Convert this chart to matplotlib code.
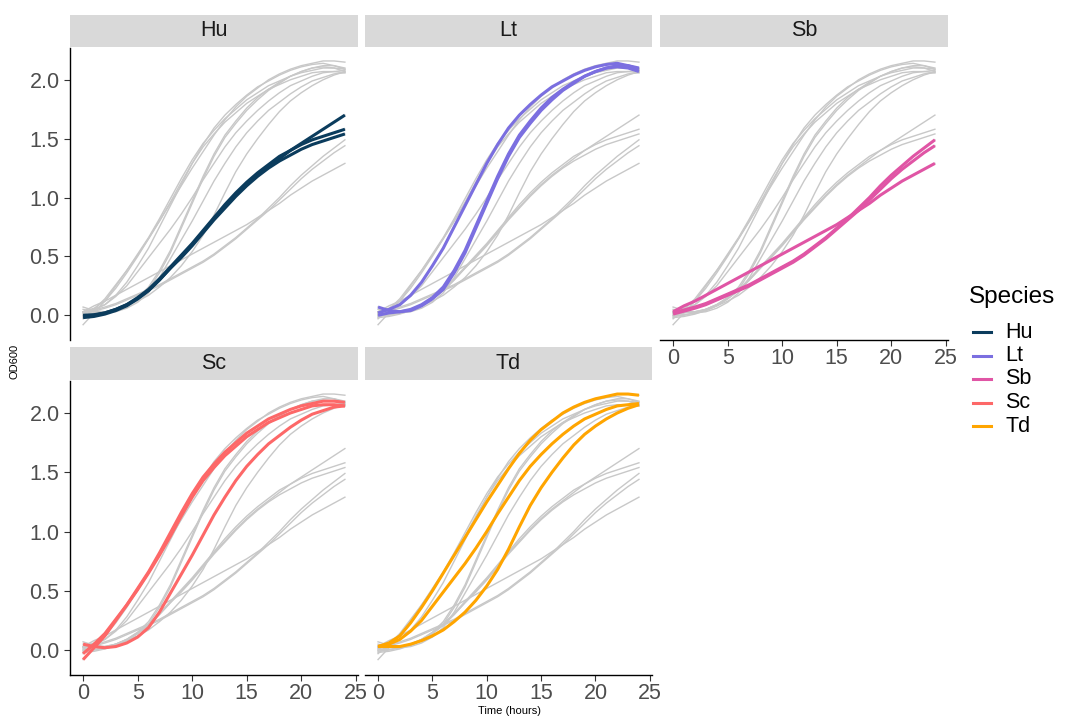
import matplotlib
matplotlib.use("Agg")
import matplotlib.pyplot as plt
from matplotlib.lines import Line2D

plt.rcParams['font.family'] = ['Liberation Sans', 'DejaVu Sans']

# time points (hours)
time_h = list(range(0, 25))

# OD600 per replicate (hourly)
hu_od = [
    [0.00, 0.005, 0.02, 0.05, 0.09, 0.14, 0.21, 0.30, 0.40, 0.50, 0.60, 0.71, 0.82,
     0.92, 1.02, 1.11, 1.19, 1.26, 1.33, 1.40, 1.46, 1.52, 1.58, 1.64, 1.70],
    [-0.01, 0.00, 0.02, 0.05, 0.09, 0.15, 0.22, 0.31, 0.41, 0.51, 0.61, 0.72, 0.83,
     0.94, 1.04, 1.13, 1.21, 1.28, 1.35, 1.40, 1.45, 1.49, 1.52, 1.55, 1.58],
    [-0.02, -0.01, 0.01, 0.04, 0.08, 0.14, 0.21, 0.30, 0.40, 0.49, 0.59, 0.70, 0.81,
     0.91, 1.01, 1.10, 1.18, 1.25, 1.31, 1.36, 1.41, 1.45, 1.48, 1.51, 1.54],
]
lt_od = [
    [0.02, 0.05, 0.09, 0.17, 0.28, 0.42, 0.57, 0.75, 0.93, 1.11, 1.29, 1.45, 1.59,
     1.70, 1.79, 1.87, 1.94, 1.99, 2.04, 2.08, 2.11, 2.13, 2.14, 2.12, 2.09],
    [0.07, 0.04, 0.03, 0.04, 0.08, 0.14, 0.22, 0.36, 0.53, 0.74, 0.95, 1.16, 1.35,
     1.51, 1.63, 1.74, 1.83, 1.91, 1.97, 2.03, 2.07, 2.10, 2.12, 2.12, 2.10],
    [0.00, 0.02, 0.03, 0.05, 0.09, 0.15, 0.24, 0.38, 0.55, 0.76, 0.97, 1.18, 1.37,
     1.53, 1.65, 1.76, 1.85, 1.92, 1.98, 2.03, 2.07, 2.10, 2.11, 2.10, 2.07],
]
sb_od = [
    [0.03, 0.08, 0.12, 0.17, 0.22, 0.27, 0.32, 0.37, 0.42, 0.47, 0.52, 0.57, 0.62,
     0.67, 0.72, 0.77, 0.83, 0.89, 0.95, 1.02, 1.08, 1.14, 1.19, 1.24, 1.29],
    [0.02, 0.045, 0.07, 0.10, 0.14, 0.18, 0.22, 0.26, 0.31, 0.36, 0.41, 0.46, 0.52,
     0.59, 0.66, 0.74, 0.82, 0.91, 1.00, 1.10, 1.19, 1.27, 1.35, 1.42, 1.49],
    [0.01, 0.035, 0.06, 0.09, 0.13, 0.17, 0.21, 0.25, 0.30, 0.35, 0.40, 0.45, 0.51,
     0.58, 0.65, 0.73, 0.81, 0.89, 0.98, 1.07, 1.16, 1.24, 1.31, 1.38, 1.44],
]
sc_od = [
    [-0.08, 0.02, 0.12, 0.25, 0.38, 0.52, 0.66, 0.82, 0.99, 1.16, 1.32, 1.46, 1.57,
     1.67, 1.75, 1.83, 1.89, 1.95, 1.99, 2.03, 2.06, 2.08, 2.10, 2.10, 2.09],
    [-0.03, 0.05, 0.14, 0.26, 0.38, 0.51, 0.65, 0.80, 0.96, 1.13, 1.29, 1.43, 1.54,
     1.64, 1.72, 1.80, 1.86, 1.92, 1.96, 2.00, 2.03, 2.06, 2.07, 2.07, 2.06],
    [0.05, 0.03, 0.02, 0.03, 0.06, 0.11, 0.19, 0.32, 0.48, 0.64, 0.80, 0.97, 1.14,
     1.29, 1.43, 1.55, 1.65, 1.74, 1.81, 1.88, 1.94, 1.99, 2.02, 2.05, 2.06],
]
td_od = [
    [0.03, 0.06, 0.12, 0.23, 0.36, 0.50, 0.65, 0.80, 0.95, 1.10, 1.25, 1.39, 1.53,
     1.66, 1.77, 1.86, 1.93, 2.00, 2.05, 2.09, 2.12, 2.14, 2.16, 2.16, 2.15],
    [0.03, 0.05, 0.09, 0.16, 0.25, 0.37, 0.49, 0.61, 0.73, 0.86, 1.00, 1.15, 1.29,
     1.43, 1.55, 1.65, 1.74, 1.82, 1.89, 1.95, 1.99, 2.03, 2.06, 2.07, 2.08],
    [0.03, 0.03, 0.03, 0.05, 0.08, 0.12, 0.17, 0.24, 0.32, 0.42, 0.54, 0.68, 0.85,
     1.04, 1.22, 1.37, 1.50, 1.62, 1.73, 1.82, 1.89, 1.95, 2.00, 2.04, 2.07],
]

species = ['Hu', 'Lt', 'Sb', 'Sc', 'Td']
species_od = [hu_od, lt_od, sb_od, sc_od, td_od]
colors = ['#0b3c5d', '#7b6fe0', '#e055a5', '#fd6868', '#ffa500']

W, H = 1073, 718


def rect(l, t, r, b):
    return [l / W, 1 - b / H, (r - l) / W, (b - t) / H]


fig = plt.figure(figsize=(W / 100, H / 100), dpi=100)

cols = [(70, 358), (365, 652), (660, 948)]
rows = [(48, 340), (381, 675)]
strips = [(15, 47), (347, 380)]

text_gray = '#4d4d4d'
for i, sp in enumerate(species):
    r, c = divmod(i, 3)
    l, rr = cols[c]
    t, b = rows[r]
    ax = fig.add_axes(rect(l, t, rr, b))

    # every replicate in grey, then highlighted species on top
    for od in species_od:
        for rep in od:
            ax.plot(time_h, rep, color='#c8c8c8', lw=1.0, zorder=1)
    for rep in species_od[i]:
        ax.plot(time_h, rep, color=colors[i], lw=2.2, zorder=3,
                solid_capstyle='butt', solid_joinstyle='round')

    ax.set_xlim(-1.2, 25.2)
    ax.set_ylim(-0.21, 2.27)
    ax.set_xticks([0, 5, 10, 15, 20, 25])
    ax.set_yticks([0.0, 0.5, 1.0, 1.5, 2.0])
    ax.set_yticklabels(['0.0', '0.5', '1.0', '1.5', '2.0'])
    for s in ax.spines.values():
        s.set_visible(False)

    show_y = (c == 0)
    show_x = (r == 1) or (i == 2)
    ax.tick_params(axis='both', colors='#333333', labelcolor=text_gray,
                   labelsize=15.5, length=4, width=0.8)
    if show_y:
        ax.spines['left'].set_visible(True)
        ax.spines['left'].set_linewidth(1.0)
    else:
        ax.tick_params(axis='y', left=False, labelleft=False)
    if show_x:
        ax.spines['bottom'].set_visible(True)
        ax.spines['bottom'].set_linewidth(1.0)
    else:
        ax.tick_params(axis='x', bottom=False, labelbottom=False)
    ax.tick_params(axis='x', pad=2)

    # facet strip
    st, sb = strips[r]
    sax = fig.add_axes(rect(l, st, rr, sb))
    sax.set_facecolor('#d9d9d9')
    sax.set_xticks([])
    sax.set_yticks([])
    for s in sax.spines.values():
        s.set_visible(False)
    sax.text(0.5, 0.5, sp, ha='center', va='center', fontsize=15.5,
             color='#1a1a1a', transform=sax.transAxes)

fig.text(15 / W, 1 - 361 / H, 'OD600', rotation=90, ha='center', va='center',
         fontsize=8, color='black')
fig.text(509 / W, 1 - 711 / H, 'Time (hours)', ha='center', va='center',
         fontsize=8, color='black')

# legend
fig.text(969 / W, 1 - 297 / H, 'Species', ha='left', va='center',
         fontsize=17.5, color='black')
for k, sp in enumerate(species):
    y = 1 - (332 + 23.5 * k) / H
    fig.add_artist(Line2D([973 / W, 991 / W], [y, y], color=colors[k], lw=2.2,
                          transform=fig.transFigure))
    fig.text(1005 / W, y, sp, ha='left', va='center', fontsize=15.5,
             color='black')

fig.savefig('out.png', dpi=100, facecolor='white')
